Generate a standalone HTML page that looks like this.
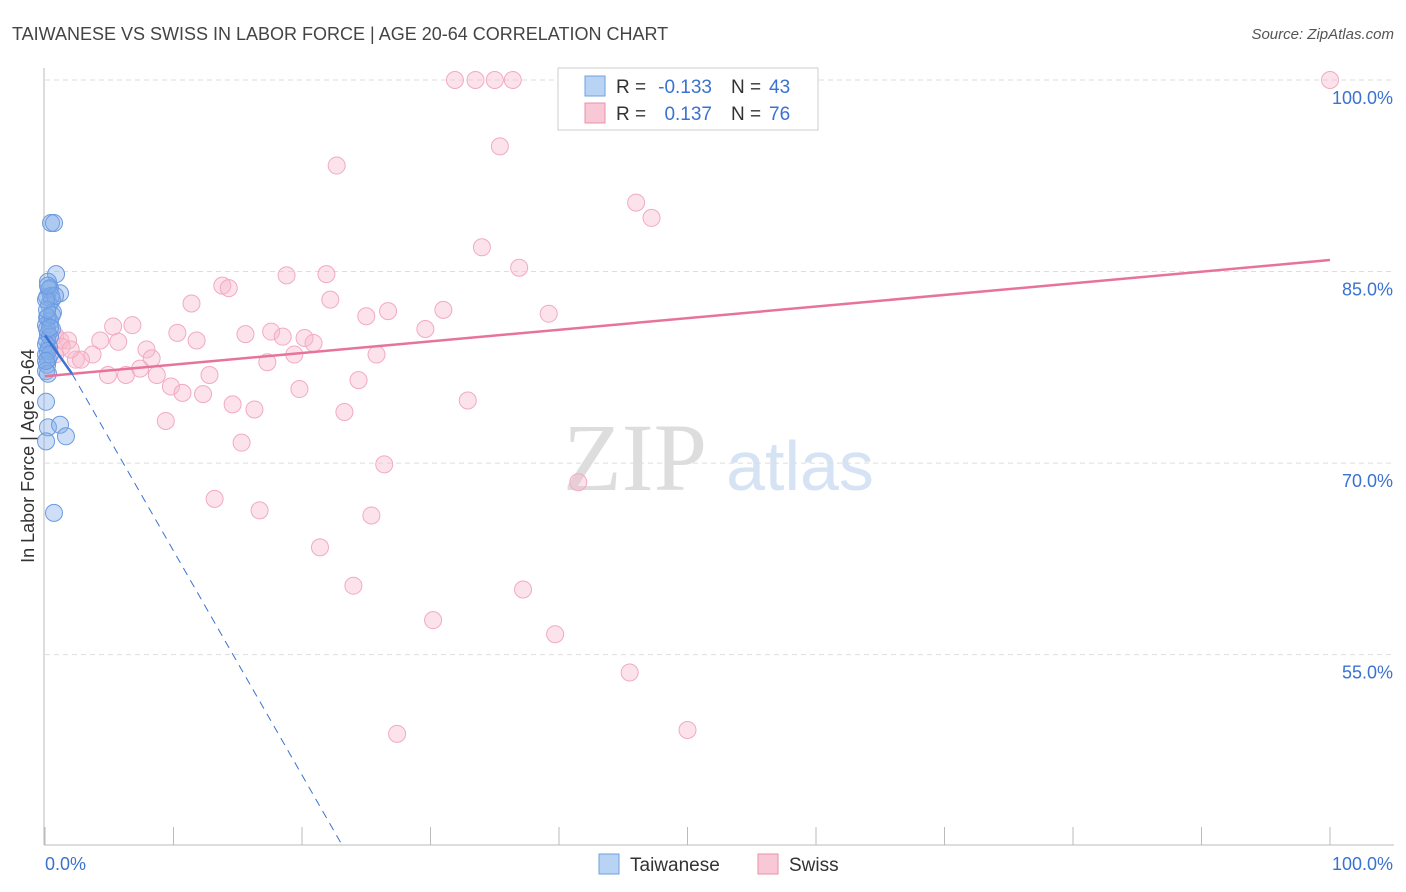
<!DOCTYPE html>
<html><head><meta charset="utf-8"><style>
body{margin:0;background:#fff;font-family:"Liberation Sans",sans-serif}
svg{display:block}
</style></head><body>
<svg id="c" width="1406" height="892">
<text x="12" y="40" font-size="18" fill="#444">TAIWANESE VS SWISS IN LABOR FORCE | AGE 20-64 CORRELATION CHART</text>
<text x="1394" y="39" font-size="15" fill="#555" font-style="italic" text-anchor="end">Source: ZipAtlas.com</text>
<text x="34" y="456" font-size="18" fill="#333" transform="rotate(-90 34 456)" text-anchor="middle">In Labor Force | Age 20-64</text>
<text x="635" y="490" font-size="96" fill="#ddd" font-family="Liberation Serif,serif" text-anchor="middle">ZIP</text>
<text x="800" y="490" font-size="70" fill="#d5e3f5" text-anchor="middle">atlas</text>
<g id="grid"></g><g id="marks"></g>
<g>
<rect x="558" y="68" width="260" height="62" fill="#fff" stroke="#ccc"/>
<rect x="585" y="76" width="20" height="20" fill="#b9d3f5" stroke="#6fa0e0"/>
<text x="616" y="93" font-size="19" fill="#333">R =</text>
<text x="712" y="93" font-size="19" fill="#3a72d0" text-anchor="end">-0.133</text>
<text x="731" y="93" font-size="19" fill="#333">N =</text>
<text x="769" y="93" font-size="19" fill="#3a72d0">43</text>
<rect x="585" y="103" width="20" height="20" fill="#f9c8d6" stroke="#eb90ab"/>
<text x="616" y="120" font-size="19" fill="#333">R =</text>
<text x="712" y="120" font-size="19" fill="#3a72d0" text-anchor="end">0.137</text>
<text x="731" y="120" font-size="19" fill="#333">N =</text>
<text x="769" y="120" font-size="19" fill="#3a72d0">76</text>
</g>
<g>
<rect x="599" y="854" width="20" height="20" fill="#b9d3f5" stroke="#6fa0e0"/>
<text x="630" y="871" font-size="19" fill="#333">Taiwanese</text>
<rect x="758" y="854" width="20" height="20" fill="#f9c8d6" stroke="#eb90ab"/>
<text x="789" y="871" font-size="19" fill="#333">Swiss</text>
</g>
</svg>
<script>
const yTicks=[100,85,70,55];
const xTickLabels=["0.0%","100.0%"];
const blueX=[0.47,0.7,0.86,0.23,0.39,1.17,0.16,0.54,0.31,0.62,0.23,0.39,0.08,0.54,0.23,0.16,0.31,0.08,0.23,0.16,0.08,0.23,0.08,0.23,1.17,1.63,0.08,0.7,0.16,0.39,0.08,0.23,0.39,0.08,0.16,0.54,0.31,0.47,0.78,0.16,0.08,0.23,0.39];
const blueY=[88.8,88.8,84.8,84.2,83.7,83.3,83.0,82.8,82.4,81.8,81.4,81.1,80.8,80.5,80.1,79.6,79.1,78.5,78.1,77.7,77.2,77.0,74.8,72.8,73.0,72.1,71.7,66.1,80.5,79.9,79.3,78.8,78.5,78.0,81.4,81.6,83.6,83.1,83.1,82.0,82.8,83.9,80.6];
const pinkX=[31.9,33.5,35.0,36.4,100,22.7,35.4,46,47.2,34,36.9,18.8,21.9,13.8,14.3,11.4,22.2,31,26.7,25,39.2,6.8,5.3,10.3,15.6,17.6,18.5,20.2,20.9,29.6,0.8,1.2,1.8,4.3,5.7,11.8,7.9,1.3,3.7,8.3,2.4,2.8,17.3,19.4,25.8,7.4,4.9,6.3,8.7,12.8,9.8,10.7,12.3,19.8,24.4,32.9,14.6,16.3,23.3,9.4,15.3,26.4,41.5,13.2,16.7,25.4,21.4,24,37.2,30.2,39.7,45.5,27.4,50.0,0.8,2.0];
const pinkY=[100,100,100,100,100,93.3,94.8,90.4,89.2,86.9,85.3,84.7,84.8,83.9,83.7,82.5,82.8,82.0,81.9,81.5,81.7,80.8,80.7,80.2,80.1,80.3,79.9,79.8,79.4,80.5,80.0,79.6,79.6,79.6,79.5,79.6,78.9,79.1,78.5,78.2,78.1,78.1,77.9,78.5,78.5,77.4,76.9,76.9,76.9,76.9,76.0,75.5,75.4,75.8,76.5,74.9,74.6,74.2,74.0,73.3,71.6,69.9,68.5,67.2,66.3,65.9,63.4,60.4,60.1,57.7,56.6,53.6,48.8,49.1,78.5,78.9];
const xs=v=>45+v*12.85, ys=v=>80+(100-v)*12.77;
const NS='http://www.w3.org/2000/svg';
const g=document.getElementById('grid'), m=document.getElementById('marks');
function mk(p,tag,a){const e=document.createElementNS(NS,tag);for(const k in a)e.setAttribute(k,a[k]);p.appendChild(e);return e;}
yTicks.forEach(t=>{
 const l=mk(g,'line',{x1:45,x2:1394,y1:ys(t),y2:ys(t),stroke:'#ddd','stroke-dasharray':'5,4'});
 
 
 const tx=mk(g,'text',{x:1393,y:ys(t)+24,'font-size':18,fill:'#3a72d0','text-anchor':'end'});
 tx.textContent=t.toFixed(1)+'%';
 
 
});
mk(g,'line',{x1:44,x2:44,y1:68,y2:845,stroke:'#bbb'});
mk(g,'line',{x1:44,x2:1394,y1:845,y2:845,stroke:'#bbb'});
for(let i=0;i<=10;i++){const x=xs(i*10);mk(g,'line',{x1:x,x2:x,y1:827,y2:845,stroke:'#bbb'});}
[[0,'start',45],[100,'end',1393]].forEach((d,i)=>{
 const tx=mk(g,'text',{x:d[2],y:870,'font-size':18,fill:'#3a72d0','text-anchor':d[1]});
 tx.textContent=xTickLabels[i];
 
 
});
pinkX.forEach((v,i)=>{
 const c=mk(m,'circle',{cx:xs(v),cy:ys(pinkY[i]),r:8.5,fill:'rgba(248,185,205,0.4)',stroke:'#f2aac0','stroke-width':1});
 
 
});
blueX.forEach((v,i)=>{
 const c=mk(m,'circle',{cx:xs(v),cy:ys(blueY[i]),r:8.5,fill:'rgba(130,172,232,0.4)',stroke:'#6a9ae0','stroke-width':1});
 
 
});
const pl=mk(m,'line',{x1:xs(0),y1:ys(76.8),x2:xs(100),y2:ys(85.9),stroke:'#e8739a','stroke-width':2.5});


const bl=mk(m,'line',{x1:xs(0),y1:ys(80.0),x2:xs(2.1),y2:ys(77.0),stroke:'#3a72d0','stroke-width':2.5});


const bd=mk(m,'line',{x1:xs(2.1),y1:ys(77.0),x2:xs(23),y2:ys(40.3),stroke:'#3a72d0','stroke-width':1,'stroke-dasharray':'8,6'});


</script>
</body></html>
